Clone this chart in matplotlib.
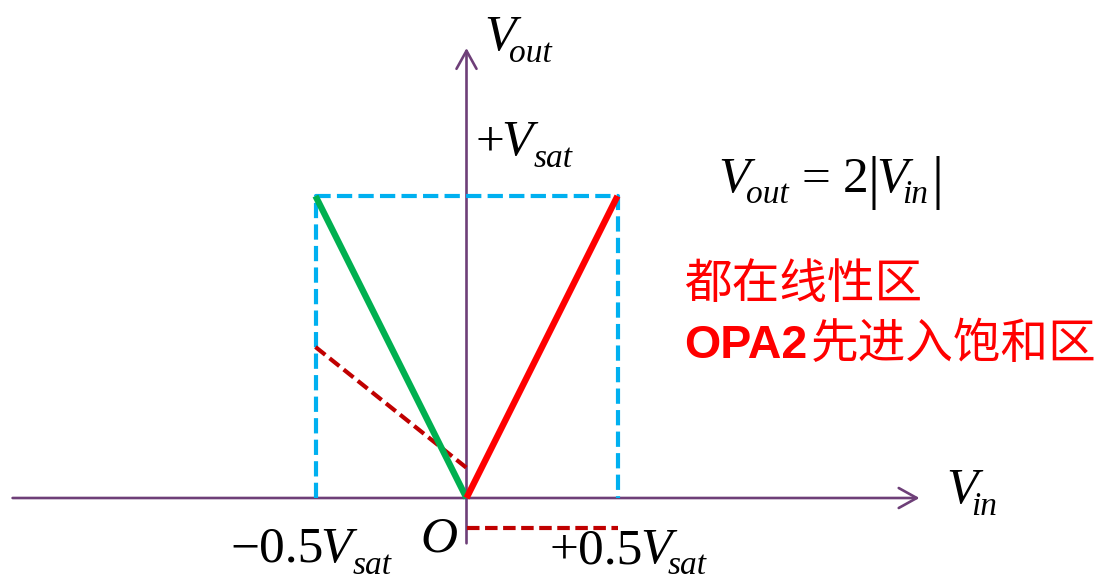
import matplotlib
matplotlib.use("Agg")
import matplotlib.pyplot as plt
from matplotlib.patches import FancyArrowPatch

plt.rcParams['lines.scale_dashes'] = False

# ---- data (units of Vsat) ----
green_x = [-0.5, 0.0]
green_y = [1.0, 0.0]
red_x = [0.0, 0.5]
red_y = [0.0, 1.0]
box_x = [-0.5, -0.5, 0.5, 0.5]
box_y = [0.0, 1.0, 1.0, 0.0]
opa1_x = [-0.5, 0.0]
opa1_y = [0.5, 0.1]
low_x = [0.0, 0.5]
low_y = [-0.1, -0.1]
xaxis_range = [-1.503, 1.50]
yaxis_range = [-0.15, 1.49]

W, H = 1104, 579
fig = plt.figure(figsize=(W / 100, H / 100), dpi=100)
ax = fig.add_axes([0, 0, 1, 1])
x0p, y0p, scale = 466.5, 498.0, 302.0
ax.set_xlim((0 - x0p) / scale, (W - x0p) / scale)
ax.set_ylim((y0p - H) / scale, (y0p - 0) / scale)
ax.axis('off')


def P(px, py):
    return (px - x0p) / scale, (y0p - py) / scale


axis_col = '#6E3F78'
# axes
ax.add_patch(FancyArrowPatch((xaxis_range[0], 0), (xaxis_range[1], 0),
                             arrowstyle='->,head_length=0.65,head_width=0.36',
                             mutation_scale=20, color=axis_col, lw=1.9,
                             shrinkA=0, shrinkB=0, zorder=2))
ax.add_patch(FancyArrowPatch((0, yaxis_range[0]), (0, yaxis_range[1]),
                             arrowstyle='->,head_length=0.65,head_width=0.36',
                             mutation_scale=20, color=axis_col, lw=1.9,
                             shrinkA=0, shrinkB=0, zorder=2))

# blue dashed box
ax.plot(box_x, box_y, color='#00B0F0', lw=3.0, dashes=(11, 4.5), zorder=3)
# dark red dashed
ax.plot(opa1_x, opa1_y, color='#C00000', lw=3.0, dashes=(9, 4), zorder=3)
ax.plot(low_x, low_y, color='#C00000', lw=3.0, dashes=(9, 4), zorder=3)
# green and red lines
ax.plot(green_x, green_y, color='#00B050', lw=4.6, zorder=4, solid_capstyle='butt')
ax.plot(red_x, red_y, color='#FF0000', lw=4.6, zorder=5, solid_capstyle='butt')

SERIF = 'Liberation Serif'
BIG, SUB = 37, 24


def t(px, py, s, size=BIG, italic=True, **kw):
    ax.text(*P(px, py), s, fontsize=size, family=SERIF,
            style='italic' if italic else 'normal', ha='left', va='baseline', **kw)


# V_out (axis label)
t(484, 50, 'V')
t(509, 62, 'out', SUB)
# +V_sat
t(476, 155, '+', italic=False)
t(501, 155, 'V')
t(534, 167, 'sat', SUB)
# V_out = 2|V_in|
t(718, 192, 'V')
t(746, 203, 'out', SUB)
t(801, 192, '=', italic=False)
t(843, 192, '2', italic=False)
t(868, 197, '|', 43, italic=False)
t(876, 192, 'V')
t(902, 203, 'in', SUB)
t(932, 197, '|', 43, italic=False)
# V_in (axis label)
t(946, 503, 'V')
t(971, 515, 'in', SUB)
# O
t(420, 552, 'O')
# -0.5 V_sat
t(230, 562, '\u2212', italic=False)
t(259, 562, '0.5', italic=False)
t(320, 562, 'V')
t(353, 574, 'sat', SUB)
# +0.5 V_sat
t(550, 563, '+', italic=False)
t(578, 563, '0.5', italic=False)
t(640, 563, 'V')
t(668, 574, 'sat', SUB)

cjk = ['Noto Sans CJK SC', 'DejaVu Sans']
ax.text(*P(684, 298), '都在线性区', fontsize=34.3, color='#FF0000', family=cjk,
        ha='left', va='baseline')
ax.text(*P(684, 358), 'OPA2', fontsize=33.5, color='#FF0000',
        family='Liberation Sans', weight='bold', ha='left', va='baseline')
ax.text(*P(811, 358), '先进入饱和区', fontsize=34.3, color='#FF0000', family=cjk,
        ha='left', va='baseline')

fig.savefig('out.png', dpi=100)
